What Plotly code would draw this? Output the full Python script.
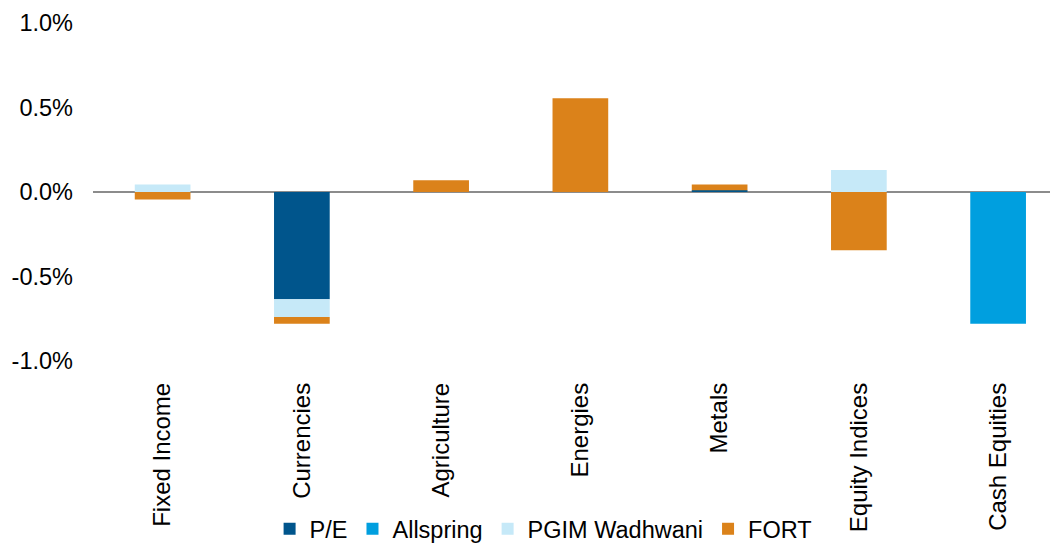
import plotly.graph_objects as go

categories = ["Fixed Income", "Currencies", "Agriculture", "Energies", "Metals", "Equity Indices", "Cash Equities"]

pe = [0.0, -0.635, 0.0, 0.0, 0.01, 0.0, 0.0]
allspring = [0.0, 0.0, 0.0, 0.0, 0.0, 0.0, -0.78]
pgim = [0.045, -0.105, 0.0, 0.0, 0.0, 0.13, 0.0]
fort = [-0.045, -0.04, 0.07, 0.555, 0.035, -0.345, 0.0]

series_names = ["P/E", "Allspring", "PGIM Wadhwani", "FORT"]
series_values = [pe, allspring, pgim, fort]
series_colors = ["#00558C", "#009FDF", "#C6E9F8", "#DB821A"]

y_ticks = [1.0, 0.5, 0.0, -0.5, -1.0]
y_tick_labels = ["1.0%", "0.5%", "0.0%", "-0.5%", "-1.0%"]

FONT = "Liberation Sans, Arial, sans-serif"

fig = go.Figure()
for name, vals, col in zip(series_names, series_values, series_colors):
    fig.add_trace(go.Bar(
        x=categories, y=vals, name=name,
        marker=dict(color=col, line=dict(width=0)),
        width=0.4,
    ))

# the page body adds an 8px offset, so the figure is sized 8px smaller
fig.update_layout(
    barmode="relative",
    width=1050, height=538,
    margin=dict(l=85, r=0, t=15, b=185, autoexpand=False),
    paper_bgcolor="white", plot_bgcolor="white",
    font=dict(family=FONT, size=23.5, color="#000000"),
    showlegend=True,
    legend=dict(
        orientation="h",
        x=0.183, xanchor="left",
        yref="paper", y=-0.497, yanchor="middle",
        font=dict(size=23.5, color="#000000"),
        itemwidth=30,
        traceorder="normal",
        bgcolor="rgba(0,0,0,0)",
    ),
    xaxis=dict(
        type="category",
        range=[-0.5, 6.43],
        showgrid=False, showline=False, zeroline=False,
        tickangle=-90,
        ticks="",
        tickfont=dict(size=24, color="#000000"),
        ticklabelstandoff=16,
        automargin=False,
    ),
    yaxis=dict(
        range=[-1.0, 1.0],
        tickvals=y_ticks, ticktext=y_tick_labels,
        showgrid=False, showline=False,
        zeroline=True, zerolinecolor="#8C8C8C", zerolinewidth=2,
        ticks="",
        tickfont=dict(size=23.5, color="#000000"),
        ticklabelstandoff=19,
        layer="above traces",
        automargin=False,
    ),
)

fig.write_html("out.html")
